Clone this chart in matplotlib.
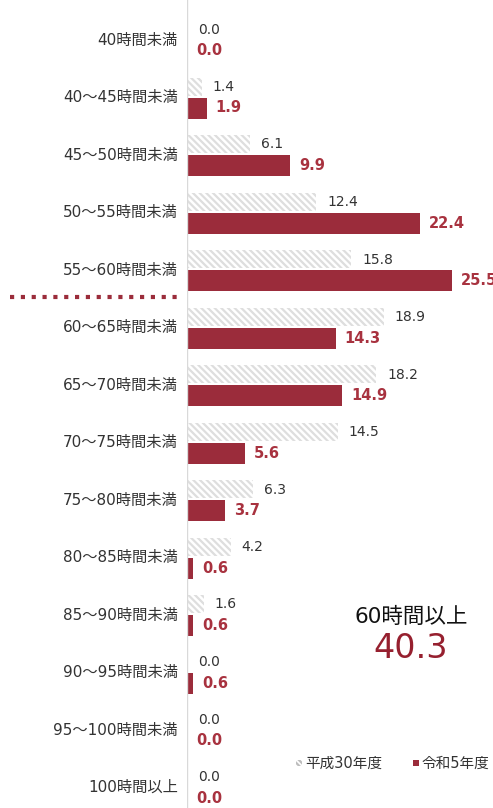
import matplotlib
matplotlib.use("Agg")
import matplotlib.pyplot as plt
from matplotlib.patches import Rectangle
import matplotlib as mpl

mpl.rcParams['hatch.linewidth'] = 1.6
plt.rcParams['font.family'] = ['DejaVu Sans', 'Noto Sans CJK JP']

categories = ["40時間未満", "40～45時間未満", "45～50時間未満", "50～55時間未満", "55～60時間未満",
              "60～65時間未満", "65～70時間未満", "70～75時間未満", "75～80時間未満", "80～85時間未満",
              "85～90時間未満", "90～95時間未満", "95～100時間未満", "100時間以上"]
h30 = [0.0, 1.4, 6.1, 12.4, 15.8, 18.9, 18.2, 14.5, 6.3, 4.2, 1.6, 0.0, 0.0, 0.0]
r5 = [0.0, 1.9, 9.9, 22.4, 25.5, 14.3, 14.9, 5.6, 3.7, 0.6, 0.6, 0.6, 0.0, 0.0]
series_names = ["平成30年度", "令和5年度"]
summary_label = "60時間以上"
summary_value = "40.3"

RED = "#9B2C3B"
RED_TXT = "#A8323F"
HATCH_C = "#dedede"
W, H = 493, 808
fig = plt.figure(figsize=(W / 100, H / 100), dpi=100)
x0 = 187
ax = fig.add_axes([x0 / W, 0, (W - x0) / W, 1])
ppu = 10.4
ax.set_xlim(0, (W - x0) / ppu)
row = 57.5
top = 40
ax.set_ylim((H - top) / row, -top / row)
ax.axis('off')
ax.axvline(0, color='#d9d9d9', lw=1)

gh, rh = 18 / row, 21 / row
go, ro = -11 / row, 10.5 / row
for i, (a, b) in enumerate(zip(h30, r5)):
    ax.barh(i + go, a, height=gh, left=0, facecolor='white', edgecolor=HATCH_C,
            hatch='\\' * 5, linewidth=0)
    ax.barh(i + ro, b, height=rh, left=0, color=RED, linewidth=0)
    ax.text(a + 11 / ppu, i + go + 0.5 / row, f"{a:.1f}", va='center', ha='left',
            fontsize=10, color='#333333')
    ax.text(b + 9 / ppu, i + ro, f"{b:.1f}", va='center', ha='left',
            fontsize=10.5, color=RED_TXT, fontweight='bold')
    fig.text(178 / W, 1 - (top + row * i) / H, categories[i], ha='right', va='center',
             fontsize=11, color='#333333')

# dotted separator
fig.add_artist(plt.Line2D([10 / W, 180 / W], [1 - 297 / H, 1 - 297 / H], color=RED,
                          lw=3, linestyle=(0, (1, 1.6))))

fig.text(411 / W, 1 - 617 / H, summary_label, ha='center', va='center', fontsize=15.5, color='#111111')
fig.text(411 / W, 1 - 648 / H, summary_value, ha='center', va='center', fontsize=24, color='#96202F')

# legend
ly = 1 - 763 / H
fig.add_artist(Rectangle((296 / W, ly - 3 / H), 6 / W, 6 / H, facecolor='white',
                         edgecolor='#bdbdbd', hatch='\\' * 6, lw=0))
fig.text(305 / W, ly, series_names[0], ha='left', va='center', fontsize=10.5, color='#333333')
fig.add_artist(Rectangle((413 / W, ly - 3 / H), 6 / W, 6 / H, facecolor=RED, lw=0))
fig.text(422 / W, ly, series_names[1], ha='left', va='center', fontsize=10.5, color='#333333')

fig.savefig("out.png", dpi=100)
